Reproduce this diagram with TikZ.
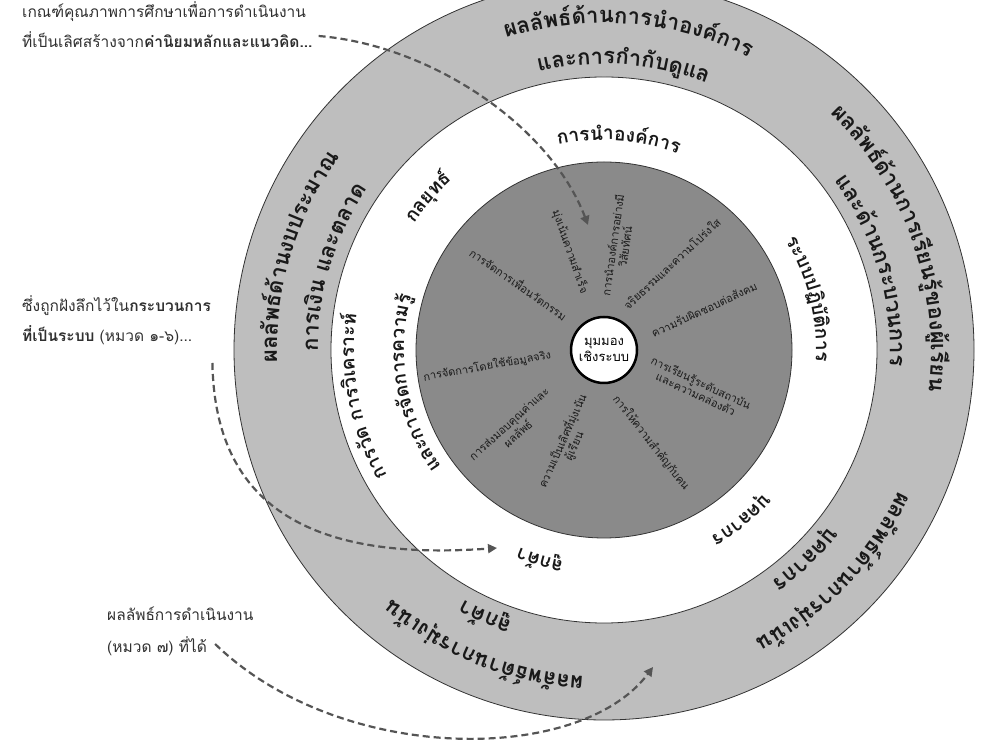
\documentclass[tikz,border=0pt]{standalone}
\usepackage{fontspec}
\newfontfamily\thai[Script=Thai]{Loma}
\usetikzlibrary{calc,arrows.meta}
\definecolor{ringgray}{HTML}{BEBEBE}
\definecolor{coregray}{HTML}{8A8A8A}
\definecolor{dashgray}{HTML}{555555}
\definecolor{labelc}{HTML}{1A1A1A}
\definecolor{notec}{HTML}{303030}
\newbox\arcbox
\def\SP{\hbox to 0.35em{}}
% #1 baseline radius, #2 middle angle, #3 font, #4 clusters (clockwise, tops outward)
\newcommand\arctext[4]{%
  \gdef\arctot{0}%
  \foreach \ch in {#4}{\pgfinterruptpicture\global\setbox\arcbox=\hbox{#3\ch}\endpgfinterruptpicture
    \pgfmathsetmacro\arctmp{\arctot+\the\wd\arcbox}\xdef\arctot{\arctmp}}%
  \pgfmathsetmacro\arcstart{#2+(\arctot/2)/#1*180/pi}\xdef\arcst{\arcstart}%
  \gdef\arcacc{0}%
  \foreach \ch in {#4}{%
    \pgfinterruptpicture\global\setbox\arcbox=\hbox{#3\ch}\endpgfinterruptpicture
    \pgfmathsetmacro\arcang{\arcst-(\arcacc+\the\wd\arcbox/2)/#1*180/pi}%
    \node[arcch,rotate=\arcang-90] at ($(C)+(\arcang:#1pt)$) {#3\ch};
    \pgfmathsetmacro\arctmp{\arcacc+\the\wd\arcbox}\xdef\arcacc{\arctmp}}%
}
\newcommand\radlab[5]{\node[rlab,rotate=#4] (#1) at ($(C)+(#2:#3pt)$) {#5};}
\tikzset{
  arcch/.style={anchor=base,inner sep=0pt,outer sep=0pt,text=black!90},
  rlab/.style={inner sep=0pt,align=center,text=labelc,font=\thai\fontsize{11}{12.5}\selectfont},
  note/.style={anchor=west,inner sep=0pt,text=notec,font=\thai\fontsize{15.5}{17}\selectfont},
  dasharrow/.style={draw=dashgray,line width=2.2pt,dash pattern=on 7pt off 4pt,
    -{Triangle[length=9pt,width=9pt,fill=dashgray]}},
}
\newcommand\OF{\thai\bfseries\fontsize{22}{24}\selectfont}
\newcommand\WF{\thai\bfseries\fontsize{19}{21}\selectfont}
\begin{document}
\begin{tikzpicture}[x=1pt,y=1pt]
\useasboundingbox (0,0) rectangle (992,746);
\fill[white] (0,0) rectangle (992,746);
\clip (0,0) rectangle (992,746);
\coordinate (C) at (604,396);
% rings
\filldraw[fill=ringgray,draw=black!80,line width=0.8pt] (C) circle (370pt);
\filldraw[fill=white,draw=black!80,line width=0.8pt] (C) circle (273pt);
\filldraw[fill=coregray,draw=black!80,line width=0.8pt] (C) circle (188pt);
\filldraw[fill=white,draw=black,line width=2.5pt] (C) circle (33pt);
\node[align=center,inner sep=0pt,font=\thai\fontsize{13}{16}\selectfont] (core) at (C) {มุมมอง\\เชิงระบบ};
% outer ring: results
\arctext{327}{85.5}{\OF}{ผ,ล,ลั,พ,ธ์,ด้,า,น,ก,า,ร,นำ,อ,ง,ค์,ก,า,ร}
\arctext{286}{86}{\OF}{แ,ล,ะ,ก,า,ร,กำ,กั,บ,ดู,แ,ล}
\arctext{327}{19.5}{\OF}{ผ,ล,ลั,พ,ธ์,ด้,า,น,ก,า,ร,เ,รี,ย,น,รู้,ข,อ,ง,ผู้,เ,รี,ย,น}
\arctext{286}{16.5}{\OF}{แ,ล,ะ,ด้,า,น,ก,ร,ะ,บ,ว,น,ก,า,ร}
\arctext{327}{-44}{\OF}{ผ,ล,ลั,พ,ธ์,ด้,า,น,ก,า,ร,มุ่,ง,เ,น้,น}
\arctext{286}{-46}{\OF}{บุ,ค,ล,า,ก,ร}
\arctext{327}{-112}{\OF}{ผ,ล,ลั,พ,ธ์,ด้,า,น,ก,า,ร,มุ่,ง,เ,น้,น}
\arctext{286}{-114}{\OF}{ลู,ก,ค้,า}
\arctext{327}{163}{\OF}{ผ,ล,ลั,พ,ธ์,ด้,า,น,ง,บ,ป,ร,ะ,ม,า,ณ}
\arctext{286}{163}{\OF}{ก,า,ร,เ,งิ,น\SP,แ,ล,ะ,ต,ล,า,ด}
% white ring: categories
\arctext{210}{86}{\WF}{ก,า,ร,นำ,อ,ง,ค์,ก,า,ร}
\arctext{228}{139}{\WF}{ก,ล,ยุ,ท,ธ์}
\arctext{212}{14}{\WF}{ร,ะ,บ,บ,ป,ฏิ,บั,ติ,ก,า,ร}
\arctext{215}{-51}{\WF}{บุ,ค,ล,า,ก,ร}
\arctext{215}{-107}{\WF}{ลู,ก,ค้,า}
\arctext{250}{191}{\WF}{ก,า,ร,วั,ด\SP,ก,า,ร,วิ,เ,ค,ร,า,ะ,ห์}
\arctext{200}{190}{\WF}{แ,ล,ะ,ก,า,ร,จั,ด,ก,า,ร,ค,ว,า,ม,รู้}
% core values
\radlab{v1}{142}{108}{-35}{การจัดการเพื่อนวัตกรรม}
\radlab{v2}{109}{104}{-71}{มุ่งเน้นความสำเร็จ}
\radlab{v3}{82}{105}{82}{การนำองค์การอย่างมี\\วิสัยทัศน์}
\radlab{v4}{52}{110}{43}{จริยธรรมและความโปร่งใส}
\radlab{v5}{22}{108}{25}{ความรับผิดชอบต่อสังคม}
\radlab{v6}{-22}{102}{-25}{การเรียนรู้ระดับสถาบัน\\และความคล่องตัว}
\radlab{v7}{-63}{104}{-52}{การให้ความสำคัญกับคน}
\radlab{v8}{-111}{100}{66}{ความเป็นเลิศที่มุ่งเน้น\\ผู้เรียน}
\radlab{v9}{-139}{120}{42}{การส่งมอบคุณค่าและ\\ผลลัพธ์}
\radlab{v10}{188}{118}{10}{การจัดการโดยใช้ข้อมูลจริง}
% annotations
\node[note] (topA) at (22,734) {เกณฑ์คุณภาพการศึกษาเพื่อการดำเนินงาน};
\node[note] (topB) at (22,706) {ที่เป็นเลิศสร้างจาก\textbf{ค่านิยมหลักและแนวคิด...}};
\node[note] (leftA) at (22,440) {ซึ่งถูกฝังลึกไว้ใน\textbf{กระบวนการ}};
\node[note] (leftB) at (22,411) {\textbf{ที่เป็นระบบ} (หมวด ๑-๖)...};
\node[note] (botA) at (107,132) {ผลลัพธ์การดำเนินงาน};
\node[note] (botB) at (107,100) {(หมวด ๗) ที่ได้};
\coordinate (tipA) at (588,521);
\coordinate (tipB) at (497,198);
\coordinate (tipC) at (653,79);
\draw[dasharrow] ([xshift=6pt,yshift=4pt]topB.east) .. controls (430,701) and (550,621) .. (tipA);
\draw[dasharrow] ([xshift=20pt,yshift=-28pt]leftB.east) .. controls (215,226) and (330,186) .. (tipB);
\draw[dasharrow] ([xshift=8pt,yshift=2pt]botB.east) .. controls (340,-19) and (580,-19) .. (tipC);
\end{tikzpicture}
\end{document}
